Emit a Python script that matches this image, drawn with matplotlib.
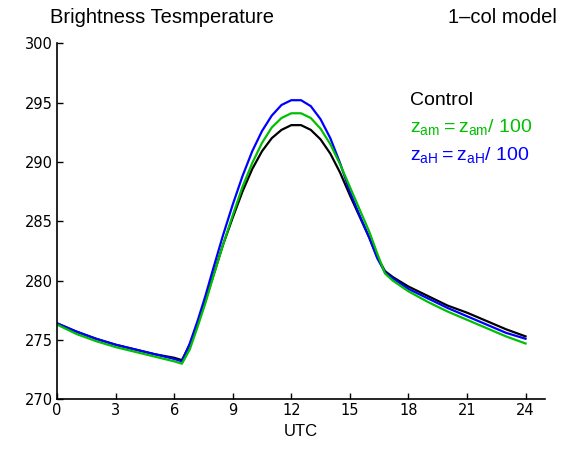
import numpy as np
import matplotlib
matplotlib.use('Agg')
from matplotlib import pyplot as plt

plt.rcParams['font.family'] = ['Liberation Sans', 'DejaVu Sans']
plt.rcParams['mathtext.default'] = 'regular'

# hours (UTC)
utc = [0, 1, 2, 3, 4, 5, 6, 6.4, 6.8, 7.2, 7.6, 8, 8.5, 9, 9.5, 10, 10.5, 11, 11.5,
       12, 12.5, 13, 13.5, 14, 14.5, 15, 15.5, 16, 16.4, 16.8, 17.2, 18, 19,
       20, 21, 22, 23, 24]

control = [276.4, 275.7, 275.1, 274.6, 274.2, 273.8, 273.5, 273.3, 274.6, 276.4,
           278.3, 280.4, 283.0, 285.3, 287.5, 289.4, 290.9, 292.0, 292.7, 293.1,
           293.1, 292.7, 291.9, 290.7, 289.1, 287.2, 285.4, 283.6, 282.0,
           280.8, 280.3, 279.5, 278.7, 277.9, 277.3, 276.6, 275.9, 275.3]

zom_100 = [276.3, 275.5, 274.9, 274.4, 274.0, 273.6, 273.2, 273.0, 274.2, 276.1,
           278.1, 280.3, 283.0, 285.5, 287.9, 289.9, 291.6, 292.9, 293.7, 294.1,
           294.1, 293.7, 292.8, 291.5, 289.8, 287.9, 286.0, 284.1, 282.3,
           280.6, 280.0, 279.1, 278.2, 277.4, 276.7, 276.0, 275.3, 274.7]

zoh_100 = [276.4, 275.7, 275.1, 274.6, 274.2, 273.8, 273.4, 273.2, 274.7, 276.6,
           278.7, 281.0, 283.8, 286.4, 288.8, 290.9, 292.6, 293.9, 294.8, 295.2,
           295.2, 294.7, 293.6, 292.0, 289.9, 287.5, 285.5, 283.6, 281.9,
           280.7, 280.2, 279.3, 278.5, 277.7, 277.0, 276.3, 275.6, 275.1]

xticks = [0, 3, 6, 9, 12, 15, 18, 21, 24]
yticks = [270, 275, 280, 285, 290, 295, 300]


def main():
	fig = plt.figure(figsize=(5.61, 4.49), dpi=100)
	ax = fig.add_axes([0.1016, 0.1107, 0.870, 0.793])

	ax.plot(utc, control, color='black', lw=1.6)
	ax.plot(utc, zoh_100, color='#0000ff', lw=1.6)
	ax.plot(utc, zom_100, color='#00c000', lw=1.6)

	ax.set_xlim(0, 25)
	ax.set_ylim(270, 300)
	ax.set_xticks(xticks)
	ax.set_yticks(yticks)
	ax.tick_params(direction='in', length=4, width=1, pad=3)
	for lab in ax.get_xticklabels() + ax.get_yticklabels():
		lab.set_family('DejaVu Sans')
		lab.set_fontsize(10.5)
	for s in ['top', 'right']:
		ax.spines[s].set_visible(False)
	for s in ['left', 'bottom']:
		ax.spines[s].set_linewidth(1.2)

	ax.set_xlabel('UTC', fontsize=12, labelpad=4)

	fig.text(0.09, 0.962, 'Brightness Tesmperature', fontsize=14.5, va='center')
	fig.text(0.993, 0.962, '1\u2013col model', fontsize=14.5, va='center', ha='right')

	ax.text(0.723, 0.838, 'Control', transform=ax.transAxes, fontsize=14,
		color='black', va='center')
	ax.text(0.723, 0.765, r'$z_{am} = z_{am}$/ 100', transform=ax.transAxes,
		fontsize=14, color='#00c000', va='center')
	ax.text(0.723, 0.685, r'$z_{aH} = z_{aH}$/ 100', transform=ax.transAxes,
		fontsize=14, color='#0000ff', va='center')

	fig.savefig('out.png', dpi=100)

if __name__ == '__main__':
	main()
